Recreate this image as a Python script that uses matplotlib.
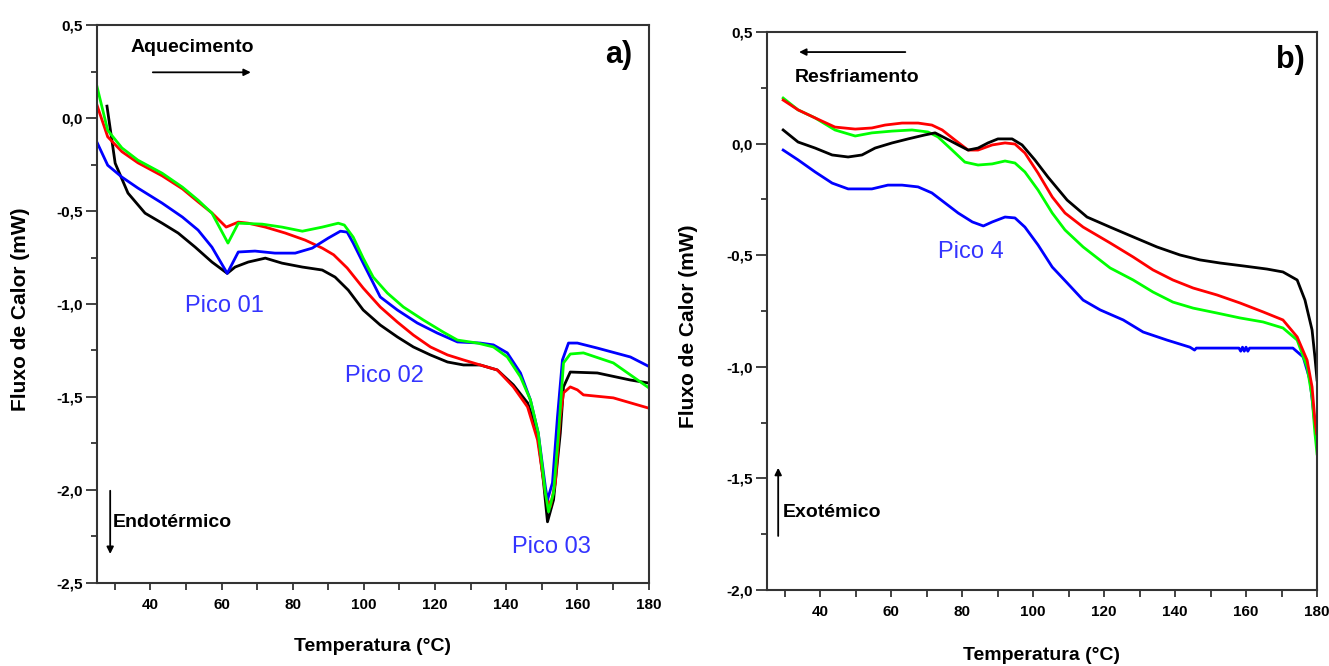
import matplotlib
matplotlib.use("Agg")
import matplotlib.pyplot as plt
from matplotlib.ticker import MultipleLocator, FuncFormatter

# ---------------- heating (a) ----------------
heat_T_black = [27.8, 30.1, 33.7, 38.5, 43.3, 47.8, 52.6, 57.3, 61.6, 63.8, 67.5, 72.3, 77.0, 82.7,
                88.3, 91.9, 95.6, 99.8, 104.6, 109.4, 113.9, 118.7, 123.5, 128.0, 132.7, 137.5,
                142.0, 146.0, 148.8, 150.5, 151.6, 153.3, 155.2, 156.1, 158.0, 165.6, 174.9, 180.0]
heat_black = [0.065, -0.242, -0.403, -0.511, -0.565, -0.618, -0.694, -0.774, -0.835, -0.801, -0.774,
              -0.753, -0.780, -0.801, -0.817, -0.855, -0.925, -1.032, -1.113, -1.177, -1.231, -1.274,
              -1.312, -1.328, -1.328, -1.355, -1.435, -1.532, -1.694, -1.962, -2.172, -2.054, -1.694,
              -1.446, -1.366, -1.371, -1.409, -1.425]

heat_T_red = [25.0, 28.0, 32.0, 36.5, 43.3, 49.0, 53.4, 57.3, 61.3, 64.7, 67.5, 72.3, 77.9, 83.5,
              88.3, 91.5, 95.3, 99.8, 104.6, 109.4, 113.9, 118.7, 123.5, 128.0, 132.7, 137.5, 142.0,
              146.0, 148.8, 151.0, 152.4, 153.8, 155.2, 156.1, 158.0, 160.0, 161.7, 170.1, 180.0]
heat_red = [0.07, -0.10, -0.18, -0.24, -0.31, -0.38, -0.45, -0.51, -0.586, -0.559, -0.565, -0.586,
            -0.618, -0.656, -0.699, -0.735, -0.806, -0.914, -1.016, -1.097, -1.167, -1.231, -1.274,
            -1.301, -1.328, -1.355, -1.446, -1.554, -1.731, -2.016, -2.091, -1.962, -1.608, -1.478,
            -1.446, -1.462, -1.489, -1.505, -1.56]

heat_T_blue = [25.0, 28.0, 32.0, 36.5, 43.3, 49.0, 53.4, 57.3, 61.6, 64.7, 69.4, 75.0, 80.7, 85.5,
               90.0, 93.4, 95.3, 97.0, 99.8, 104.6, 109.4, 115.0, 120.6, 126.3, 132.7, 136.4, 140.3,
               144.0, 146.8, 149.0, 151.0, 151.6, 153.0, 154.4, 155.8, 157.5, 160.0, 165.6, 174.9, 180.0]
heat_blue = [-0.13, -0.253, -0.317, -0.376, -0.457, -0.532, -0.602, -0.694, -0.835, -0.720, -0.715,
             -0.726, -0.726, -0.699, -0.645, -0.608, -0.613, -0.672, -0.780, -0.962, -1.032, -1.102,
             -1.156, -1.204, -1.210, -1.220, -1.263, -1.371, -1.516, -1.694, -1.984, -2.054, -1.962,
             -1.608, -1.301, -1.210, -1.210, -1.237, -1.285, -1.335]

heat_T_green = [25.0, 28.0, 32.0, 36.5, 43.3, 49.0, 53.4, 57.3, 61.8, 64.7, 71.4, 77.0, 82.7, 88.3,
                92.8, 94.5, 97.0, 99.8, 102.6, 106.6, 111.1, 116.7, 122.3, 126.3, 131.9, 136.4,
                140.3, 144.0, 146.8, 149.0, 151.0, 151.9, 153.3, 154.7, 156.1, 158.0, 161.7, 170.1,
                180.0]
heat_green = [0.17, -0.065, -0.16, -0.226, -0.296, -0.371, -0.441, -0.511, -0.672, -0.565, -0.570,
              -0.586, -0.608, -0.586, -0.565, -0.575, -0.640, -0.753, -0.855, -0.941, -1.016, -1.086,
              -1.151, -1.194, -1.210, -1.231, -1.285, -1.392, -1.516, -1.694, -2.016, -2.118, -2.016,
              -1.694, -1.317, -1.269, -1.263, -1.317, -1.45]

# ---------------- cooling (b) ----------------
cool_T_black = [29.6, 33.8, 38.6, 43.4, 47.9, 51.8, 55.5, 60.3, 64.8, 69.6, 72.4, 75.2, 78.9, 81.7,
                84.5, 87.3, 90.1, 94.1, 96.9, 100.5, 104.2, 109.6, 115.2, 121.7, 128.2, 134.9, 141.4,
                147.0, 152.7, 159.2, 165.9, 170.4, 174.4, 176.6, 178.6, 179.4, 180.0]
cool_black = [0.061, 0.007, -0.020, -0.051, -0.060, -0.051, -0.020, 0.003, 0.021, 0.039, 0.048, 0.025,
              -0.006, -0.029, -0.020, 0.003, 0.021, 0.021, -0.006, -0.073, -0.150, -0.253, -0.329,
              -0.374, -0.418, -0.463, -0.499, -0.521, -0.535, -0.548, -0.562, -0.575, -0.611, -0.701,
              -0.835, -0.956, -1.059]

cool_T_red = [29.6, 33.8, 38.6, 44.2, 49.9, 54.6, 58.3, 63.1, 67.6, 71.5, 74.4, 78.0, 81.7, 84.5,
              88.5, 92.1, 94.9, 97.7, 101.4, 105.4, 109.0, 114.1, 121.7, 128.2, 133.8, 139.4, 145.1,
              151.8, 158.3, 164.8, 170.4, 174.4, 177.2, 178.6, 179.4, 179.9]
cool_red = [0.195, 0.151, 0.115, 0.074, 0.065, 0.070, 0.083, 0.092, 0.092, 0.083, 0.061, 0.016,
            -0.029, -0.029, -0.006, 0.003, -0.002, -0.042, -0.132, -0.239, -0.311, -0.374, -0.445,
            -0.508, -0.566, -0.611, -0.647, -0.678, -0.714, -0.754, -0.790, -0.866, -0.970, -1.090,
            -1.238, -1.30]

cool_T_green = [29.6, 33.8, 38.6, 44.2, 49.9, 54.6, 60.3, 65.9, 70.4, 73.2, 77.2, 80.8, 84.5, 88.5,
                92.1, 94.9, 97.7, 101.4, 105.4, 109.0, 114.1, 121.7, 128.2, 133.8, 139.4, 145.1,
                151.8, 158.3, 164.8, 170.4, 174.4, 177.2, 178.6, 179.4, 180.0]
cool_green = [0.204, 0.151, 0.115, 0.061, 0.034, 0.048, 0.056, 0.061, 0.052, 0.030, -0.029, -0.083,
              -0.096, -0.091, -0.078, -0.087, -0.127, -0.208, -0.311, -0.387, -0.463, -0.557, -0.611,
              -0.665, -0.710, -0.737, -0.759, -0.781, -0.799, -0.826, -0.880, -1.001, -1.135, -1.297,
              -1.39]

cool_T_blue = [29.6, 33.8, 38.6, 43.4, 47.9, 54.6, 59.1, 63.1, 67.6, 71.5, 75.2, 78.9, 82.9, 86.0,
               88.5, 92.1, 94.9, 97.7, 101.4, 105.4, 109.6, 114.1, 118.9, 125.4, 131.0, 137.7, 144.2,
               145.5, 146.0, 158.0, 158.5, 159.0, 159.5, 160.0, 160.5, 161.0, 173.2, 176.1, 178.0,
               179.7]
cool_blue = [-0.029, -0.073, -0.127, -0.177, -0.203, -0.203, -0.186, -0.186, -0.194, -0.221, -0.266,
             -0.311, -0.351, -0.369, -0.351, -0.329, -0.333, -0.374, -0.454, -0.553, -0.624, -0.701,
             -0.745, -0.790, -0.844, -0.880, -0.912, -0.925, -0.916, -0.916, -0.930, -0.912, -0.930,
             -0.912, -0.930, -0.916, -0.916, -0.956, -1.059, -1.30]

x_ticks = [40, 60, 80, 100, 120, 140, 160, 180]
heat_y_ticks = [0.5, 0.0, -0.5, -1.0, -1.5, -2.0, -2.5]
cool_y_ticks = [0.5, 0.0, -0.5, -1.0, -1.5, -2.0]

narrow = ["Liberation Sans Narrow", "Liberation Sans", "DejaVu Sans"]
wide = ["Liberation Sans", "DejaVu Sans"]
peak_color = "#3434ff"

fig = plt.figure(figsize=(13.29, 6.66), dpi=100)
ax_a = fig.add_axes([0.073, 0.125, 0.415, 0.837])
ax_b = fig.add_axes([0.577, 0.114, 0.414, 0.838])


def comma(v, pos):
    return f"{v:.1f}".replace(".", ",")


def style(ax, yticks, ylab_x, ylab_y, xlab_y):
    ax.set_xlim(25, 180)
    ax.set_ylim(min(yticks), max(yticks))
    ax.set_xticks(x_ticks)
    ax.xaxis.set_minor_locator(MultipleLocator(10))
    ax.set_yticks(yticks)
    ax.yaxis.set_minor_locator(MultipleLocator(0.25))
    ax.yaxis.set_major_formatter(FuncFormatter(comma))
    ax.tick_params(axis="both", which="both", direction="out", top=False, right=False, width=1.2,
                   colors="#222222")
    ax.tick_params(axis="x", which="major", length=5, pad=6)
    ax.tick_params(axis="x", which="minor", length=5)
    ax.tick_params(axis="y", which="major", length=8, pad=2)
    ax.tick_params(axis="y", which="minor", length=4)
    for lab in ax.get_xticklabels() + ax.get_yticklabels():
        lab.set_family(narrow)
        lab.set_fontweight("bold")
        lab.set_fontsize(11)
        lab.set_color("black")
    for sp in ax.spines.values():
        sp.set_linewidth(1.5)
        sp.set_color("#333333")
    ax.set_xlabel("Temperatura (°C)", family=narrow, fontweight="bold", fontsize=14)
    ax.xaxis.set_label_coords(0.5, xlab_y)
    ax.set_ylabel("Fluxo de Calor (mW)", family=wide, fontweight="bold", fontsize=15)
    ax.yaxis.set_label_coords(ylab_x, ylab_y)


lw = 2.0
ax_a.plot(heat_T_black, heat_black, color="black", lw=lw)
ax_a.plot(heat_T_red, heat_red, color="red", lw=lw)
ax_a.plot(heat_T_blue, heat_blue, color="blue", lw=lw)
ax_a.plot(heat_T_green, heat_green, color="#00ff00", lw=lw)
style(ax_a, heat_y_ticks, -0.122, 0.49, -0.1)

ax_a.text(34.3, 0.382, "Aquecimento", family=narrow, fontweight="bold", fontsize=14,
          ha="left", va="center")
ax_a.annotate("", xy=(69.0, 0.247), xytext=(39.9, 0.247),
              arrowprops=dict(arrowstyle="-|>", color="black", lw=1.3, mutation_scale=10))
ax_a.text(171.6, 0.339, "a)", family=narrow, fontweight="bold", fontsize=22, ha="center", va="center")
ax_a.text(29.5, -2.177, "Endotérmico", family=narrow, fontweight="bold", fontsize=14,
          ha="left", va="center")
ax_a.annotate("", xy=(28.7, -2.36), xytext=(28.7, -1.99),
              arrowprops=dict(arrowstyle="-|>", color="black", lw=1.3, mutation_scale=10))
ax_a.text(49.8, -1.011, "Pico 01", family=narrow, fontsize=17, color=peak_color, ha="left", va="center")
ax_a.text(94.8, -1.387, "Pico 02", family=narrow, fontsize=17, color=peak_color, ha="left", va="center")
ax_a.text(141.7, -2.306, "Pico 03", family=narrow, fontsize=17, color=peak_color, ha="left", va="center")

ax_b.plot(cool_T_blue, cool_blue, color="blue", lw=lw)
ax_b.plot(cool_T_green, cool_green, color="#00ff00", lw=lw)
ax_b.plot(cool_T_red, cool_red, color="red", lw=lw)
ax_b.plot(cool_T_black, cool_black, color="black", lw=lw)
style(ax_b, cool_y_ticks, -0.125, 0.473, -0.102)

ax_b.annotate("", xy=(33.3, 0.41), xytext=(64.8, 0.41),
              arrowprops=dict(arrowstyle="-|>", color="black", lw=1.3, mutation_scale=10))
ax_b.text(33.0, 0.294, "Resfriamento", family=narrow, fontweight="bold", fontsize=14,
          ha="left", va="center")
ax_b.text(172.4, 0.375, "b)", family=narrow, fontweight="bold", fontsize=22, ha="center", va="center")
ax_b.text(73.2, -0.486, "Pico 4", family=narrow, fontsize=17, color=peak_color, ha="left", va="center")
ax_b.text(29.6, -1.651, "Exotémico", family=narrow, fontweight="bold", fontsize=14,
          ha="left", va="center")
ax_b.annotate("", xy=(28.2, -1.44), xytext=(28.2, -1.77),
              arrowprops=dict(arrowstyle="-|>", color="black", lw=1.3, mutation_scale=10))

fig.savefig("out.png", dpi=100)
